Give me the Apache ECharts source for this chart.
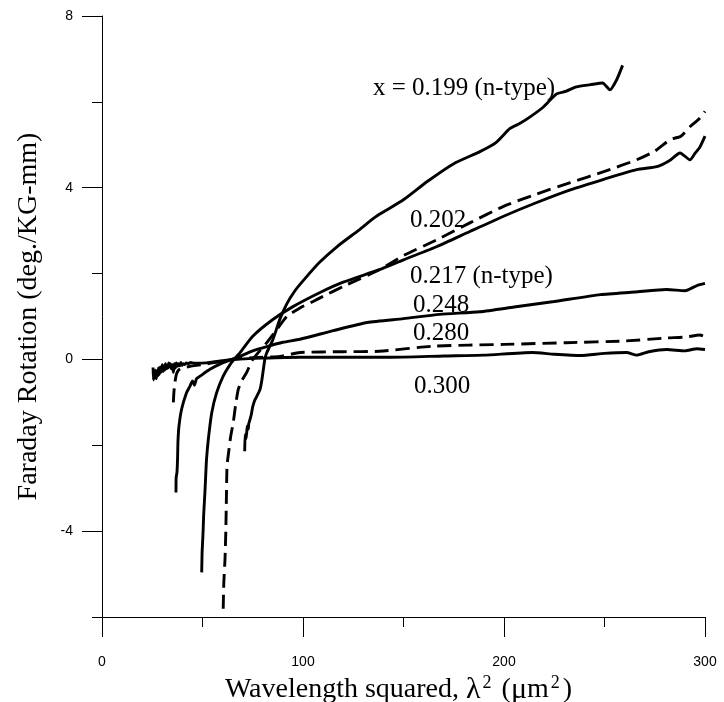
<!DOCTYPE html>
<html>
<head>
<meta charset="utf-8">
<script src="https://cdn.jsdelivr.net/npm/echarts@6/dist/echarts.min.js"></script>
<style>html,body{margin:0;padding:0;background:#fff}#c{width:724px;height:702px}</style>
</head>
<body>
<div id="c"></div>
<script>
// ---- data ----
const x199 = [71.0,71.2,71.6,72.0,72.3,72.8,73.0,73.6,74.2,75.0,76.0,77.0,78.6,79.6,81.0,82.0,85.0,88.6,92,96,100,108,117,128,133,138,150,162,175,188,196,203,208,213,219.6,226,231,236,243,249,252.7,256,259];
const y199 = [-2.14,-1.75,-1.85,-1.70,-1.55,-1.62,-1.50,-1.40,-1.30,-1.10,-0.95,-0.86,-0.70,-0.46,0.0,0.16,0.46,0.95,1.30,1.60,1.83,2.25,2.63,3.02,3.21,3.38,3.72,4.15,4.56,4.84,5.05,5.38,5.50,5.65,5.88,6.18,6.25,6.35,6.40,6.44,6.28,6.51,6.85];

const x202 = [60.3,60.6,61.2,61.6,61.9,62.2,62.9,64,65.3,66.5,67.8,69.5,72,75,82,87,92,98.5,105,110,120,138,150,166.7,183,199.5,216,233,250,266,275,282.6,288,292.5,297,300];
const y202 = [-5.81,-5.2,-4.65,-4.0,-3.2,-2.48,-2.2,-1.8,-1.47,-1.05,-0.70,-0.50,-0.30,0.0,0.39,0.70,1.0,1.20,1.35,1.47,1.70,2.09,2.42,2.79,3.18,3.56,3.85,4.12,4.38,4.65,4.85,5.12,5.20,5.42,5.60,5.78];

const x217 = [49.6,49.8,50.0,50.3,50.6,51.2,51.6,52,52.9,54.6,57,60.3,63.7,67,68.7,75,85,95,108.5,120,138,150,166.7,183,199.5,216,233,250,266,276,282,287.6,292.5,295,297.5,300];
const y217 = [-4.96,-4.5,-4.3,-4.0,-3.6,-3.1,-2.7,-2.33,-1.86,-1.24,-0.78,-0.39,-0.12,0.07,0.16,0.54,0.93,1.23,1.56,1.80,2.09,2.32,2.63,2.98,3.33,3.65,3.95,4.20,4.42,4.49,4.62,4.81,4.65,4.80,4.95,5.20];

const x248 = [36.8,36.9,37.3,37.6,37.8,38.3,39.6,42,43.8,45,46,47,48.8,53.7,60,67,75,82,90,98.5,115,132,150,168,188,205,225,248,265,281,290,296,300];
const y248 = [-3.10,-2.75,-2.63,-2.30,-1.90,-1.55,-1.16,-0.78,-0.62,-0.50,-0.60,-0.45,-0.39,-0.23,-0.08,0.04,0.20,0.30,0.40,0.47,0.67,0.86,0.95,1.05,1.11,1.22,1.35,1.51,1.57,1.63,1.60,1.72,1.77];

const x280 = [35.5,35.8,36.3,37,38,40,45,50,55,60,65,75,88.6,98.5,120,138,165,200,231,260,281,290,297.5,300];
const y280 = [-1.00,-0.75,-0.53,-0.35,-0.25,-0.20,-0.15,-0.12,-0.08,-0.05,0.0,0.04,0.07,0.16,0.18,0.19,0.31,0.35,0.39,0.43,0.50,0.52,0.57,0.53];

const x300 = [25.4,25.6,25.9,26.3,26.7,27.0,27.4,27.8,28.1,28.5,28.9,29.3,29.7,30.0,30.4,30.8,31.2,31.6,32.0,32.4,32.8,33.2,33.6,34.0,34.5,35.0,35.5,36.0,36.5,37.0,37.5,38.0,38.6,39.2,39.8,40.5,41.2,42,43,44,46,52,58,65,80,98.5,120,143,170,190,214,225,238,250,261,266,272,281,290,296,300];
const y300 = [-0.19,-0.48,-0.30,-0.42,-0.25,-0.45,-0.28,-0.38,-0.20,-0.35,-0.18,-0.30,-0.22,-0.12,-0.28,-0.15,-0.25,-0.10,-0.22,-0.14,-0.20,-0.08,-0.18,-0.10,-0.22,-0.12,-0.30,-0.10,-0.20,-0.08,-0.16,-0.10,-0.15,-0.07,-0.14,-0.10,-0.12,-0.08,-0.10,-0.07,-0.09,-0.08,-0.04,0.0,0.03,0.05,0.05,0.05,0.08,0.10,0.16,0.12,0.09,0.14,0.16,0.10,0.18,0.23,0.20,0.25,0.23];

const curveNames = ['0.199','0.202','0.217','0.248','0.280','0.300'];
const curveX = [x199, x202, x217, x248, x280, x300];
const curveY = [y199, y202, y217, y248, y280, y300];
const curveDashed = [false, true, false, false, true, false];

const labelTexts = ['x = 0.199 (n-type)','0.202','0.217 (n-type)','0.248','0.280','0.300'];
const labelX = [134.8, 153.2, 153.2, 154.7, 154.7, 155.2];
const labelY = [6.31, 3.23, 1.93, 1.26, 0.60, -0.62];

const xMajorTicks = [0,100,200,300];
const yMajorTicks = [-4,0,4,8];
// -------------------------------------

const SERIF = "'Liberation Serif','Times New Roman',serif";
const SANS = "'Liberation Sans',Arial,sans-serif";

const chart = echarts.init(document.getElementById('c'), null, {renderer:'canvas'});

const series = curveNames.map((n, i) => ({
  name: n,
  type: 'line',
  xAxisIndex: 0, yAxisIndex: 0,
  data: curveX[i].map((x, k) => [x, curveY[i][k]]),
  showSymbol: false,
  smooth: 0.2,
  silent: true,
  lineStyle: {color:'#000', width: 2.9, type: curveDashed[i] ? [14, 7] : 'solid'},
  z: 3
}));

series.push({
  type: 'scatter',
  xAxisIndex: 0, yAxisIndex: 0,
  symbolSize: 0,
  silent: true,
  itemStyle: {opacity: 1},
  data: labelTexts.map((t, i) => ({name: t, value: [labelX[i], labelY[i]]})),
  label: {
    show: true, position: 'right', distance: 0, opacity: 1,
    formatter: p => p.name,
    color:'#000', fontSize: 25, fontFamily: SERIF
  },
  z: 5
});

chart.setOption({
  animation: false,
  backgroundColor: '#fff',
  grid: {left: 102, right: 19, top: 16, bottom: 85, containLabel: false, outerBoundsMode: 'none'},
  xAxis: [{
    type: 'value', min: 0, max: 300, interval: 100,
    axisLine: {show: true, onZero: false, lineStyle: {color:'#000', width: 1}},
    axisTick: {show: true, length: 20, lineStyle: {color:'#000', width: 1}, customValues: xMajorTicks},
    minorTick: {show: true, splitNumber: 2, length: 10, lineStyle: {color:'#000', width: 1}},
    axisLabel: {color:'#000', fontSize: 14, fontFamily: SANS, margin: 38, customValues: xMajorTicks},
    splitLine: {show: false},
    name: 'Wavelength squared, {g|λ}{sup|2} ({g|μ}m{sup|2})',
    nameLocation: 'middle', nameGap: 47,
    nameTextStyle: {color:'#000', fontSize: 28, fontFamily: SERIF, lineHeight: 32, padding: [0, 10, 0, 0],
      rich: {
        sup: {fontSize: 18, fontFamily: SERIF, color:'#000', verticalAlign: 'top', lineHeight: 20, padding: [0, 3, 0, 2]},
        g: {fontSize: 30, fontFamily: SERIF, color:'#000', lineHeight: 32}
      }}
  }],
  yAxis: [{
    type: 'value', min: -6, max: 8,
    position: 'left',
    axisLine: {show: true, onZero: false, lineStyle: {color:'#000', width: 1}},
    axisTick: {show: true, length: 20, lineStyle: {color:'#000', width: 1}, customValues: yMajorTicks},
    axisLabel: {color:'#000', fontSize: 14, fontFamily: SANS, margin: 29, customValues: yMajorTicks},
    splitLine: {show: false},
    name: 'Faraday Rotation (deg./KG-mm)',
    nameLocation: 'middle', nameGap: 59,
    nameTextStyle: {color:'#000', fontSize: 28, fontFamily: SERIF}
  }, {
    type: 'value', min: -6, max: 8, interval: 4,
    position: 'left', offset: 0,
    axisLine: {show: false},
    axisTick: {show: true, length: 10, lineStyle: {color:'#000', width: 1}},
    axisLabel: {show: false},
    splitLine: {show: false}
  }],
  series: series
});
</script>
</body>
</html>
